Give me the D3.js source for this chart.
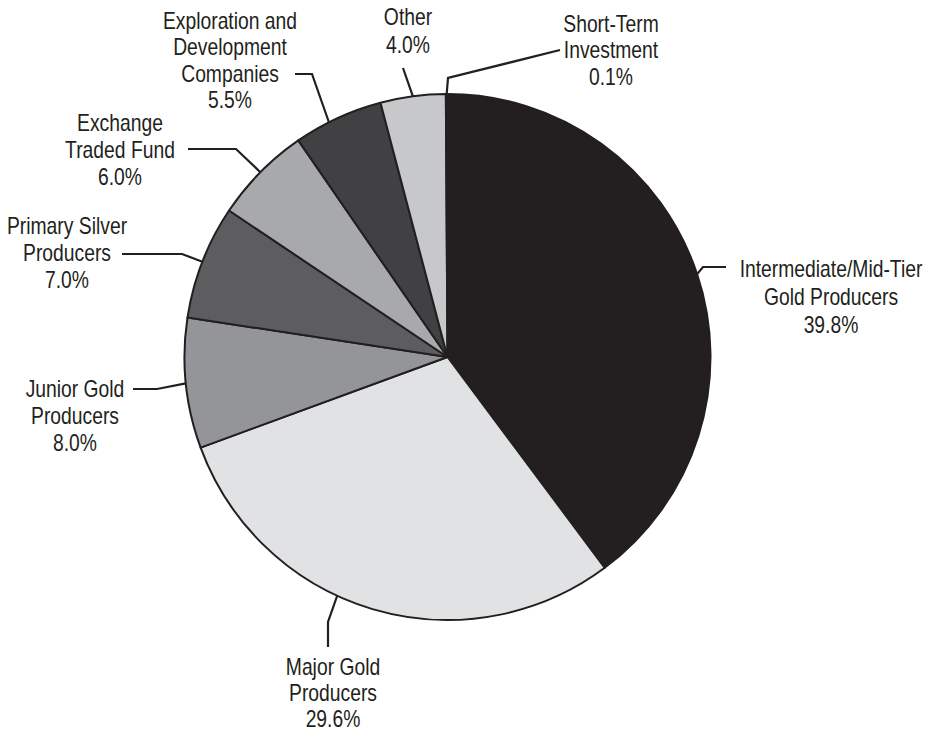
<!DOCTYPE html>
<html>
<head>
<meta charset="utf-8">
<script src="https://cdn.jsdelivr.net/npm/d3@7"></script>
<style>
  html, body { margin: 0; padding: 0; background: #fff; }
  svg text { font-family: "Liberation Sans", Arial, sans-serif; fill: #231f20; }
</style>
</head>
<body>
<div id="chart"></div>
<script>
// sectors, clockwise from 12 o'clock
const sectors = [
    'Intermediate/Mid-Tier Gold Producers',
    'Major Gold Producers',
    'Junior Gold Producers',
    'Primary Silver Producers',
    'Exchange Traded Fund',
    'Exploration and Development Companies',
    'Other',
    'Short-Term Investment'
];
const weights = [39.8, 29.6, 8.0, 7.0, 6.0, 5.5, 4.0, 0.1];
const labelLines = [
    ['Intermediate/Mid-Tier', 'Gold Producers'],
    ['Major Gold', 'Producers'],
    ['Junior Gold', 'Producers'],
    ['Primary Silver', 'Producers'],
    ['Exchange', 'Traded Fund'],
    ['Exploration and', 'Development', 'Companies'],
    ['Other'],
    ['Short-Term', 'Investment']
];
const fills = ['#231f20', '#e1e2e3', '#939598', '#5d5d5f', '#a7a9ac', '#414042', '#c7c8ca', '#808285'];

// callout layout: anchor angle override (deg), leader bends, label centre, first baseline, line step
const callouts = [
    { angle: null, path: [[703, 267], [726, 267]], x: 831, y: 277, step: 28 },
    { angle: 204.8, path: [[328, 622], [328, 647]], x: 333, y: 675, step: 26 },
    { angle: null, path: [[157, 389], [133, 389]], x: 75, y: 397, step: 27 },
    { angle: null, path: [[182, 254], [122, 254]], x: 67, y: 234, step: 27 },
    { angle: null, path: [[236, 149], [188, 149]], x: 120, y: 131, step: 27 },
    { angle: 333.2, path: [[312, 74], [295, 74]], x: 230, y: 29, step: 26.5 },
    { angle: null, path: [[403, 68]], x: 408, y: 25, step: 28 },
    { angle: null, path: [[448, 78], [560, 50]], x: 611, y: 32, step: 26.5 }
];

const width = 929, height = 731;
const cx = 447.5, cy = 357, radius = 263;
const fontSize = 23, squeeze = 0.84;

const svg = d3.select('#chart')
    .append('svg')
    .attr('width', width)
    .attr('height', height);

const rows = sectors.map((name, i) => ({ name, value: weights[i], i }));

const pie = d3.pie()
    .sort(null)
    .value(d => d.value);

const arc = d3.arc()
    .innerRadius(0)
    .outerRadius(radius);

const arcs = pie(rows);

const g = svg.append('g').attr('transform', `translate(${cx},${cy})`);

g.selectAll('path.slice')
    .data(arcs)
    .enter()
    .append('path')
    .attr('class', 'slice')
    .attr('d', arc)
    .attr('fill', d => fills[d.data.i])
    .attr('stroke', '#231f20')
    .attr('stroke-width', 2)
    .attr('stroke-linejoin', 'round');

// leader lines
const line = d3.line();
arcs.forEach(d => {
    const c = callouts[d.data.i];
    const a = c.angle != null ? c.angle * Math.PI / 180 : (d.startAngle + d.endAngle) / 2;
    const start = [cx + radius * Math.sin(a), cy - radius * Math.cos(a)];
    svg.append('path')
        .attr('d', line([start].concat(c.path)))
        .attr('fill', 'none')
        .attr('stroke', '#231f20')
        .attr('stroke-width', 2.2);
});

// labels (condensed look by squeezing horizontally)
arcs.forEach(d => {
    const c = callouts[d.data.i];
    const lines = labelLines[d.data.i].concat([d.data.value.toFixed(1) + '%']);
    const t = svg.append('text')
        .attr('transform', `translate(${c.x},0) scale(${squeeze},1)`)
        .attr('text-anchor', 'middle')
        .attr('font-size', fontSize);
    lines.forEach((s, k) => {
        t.append('tspan')
            .attr('x', 0)
            .attr('y', c.y + k * c.step)
            .text(s);
    });
});
</script>
</body>
</html>
